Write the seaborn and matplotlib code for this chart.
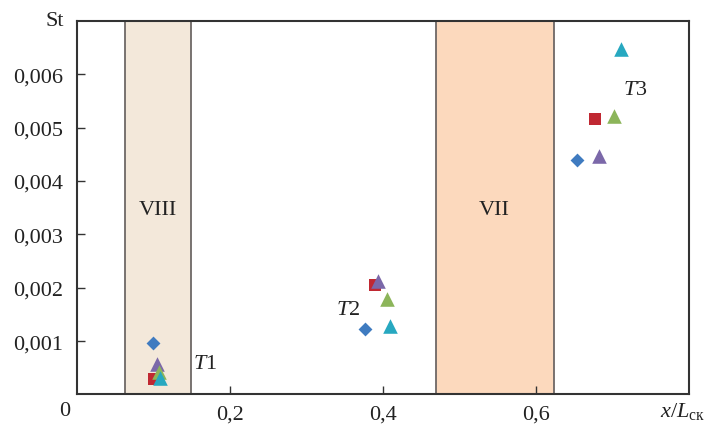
import numpy as np
import pandas as pd
import seaborn as sns
import matplotlib.pyplot as plt

# Stanton number vs relative coordinate, three sections T1..T3
series = ["diamond", "square", "tri_purple", "tri_green", "tri_cyan"]
x_diamond = [0.099, 0.376, 0.653]
y_diamond = [0.00096, 0.00122, 0.00440]
x_square = [0.101, 0.389, 0.677]
y_square = [0.00028, 0.00205, 0.00516]
x_tri_purple = [0.105, 0.394, 0.683]
y_tri_purple = [0.00057, 0.00213, 0.00446]
x_tri_green = [0.107, 0.405, 0.702]
y_tri_green = [0.00042, 0.00179, 0.00522]
x_tri_cyan = [0.108, 0.409, 0.711]
y_tri_cyan = [0.00030, 0.00129, 0.00647]

x_ticks = [0.2, 0.4, 0.6]
x_ticklabels = ["0,2", "0,4", "0,6"]
y_ticks = [0.001, 0.002, 0.003, 0.004, 0.005, 0.006]
y_ticklabels = ["0,001", "0,002", "0,003", "0,004", "0,005", "0,006"]

# zones
zone_names = ["VIII", "VII"]
zone_start = [0.063, 0.469]
zone_end = [0.149, 0.623]

group_names = ["1", "2", "3"]
group_label_x = [0.168, 0.354, 0.730]
group_label_y = [0.00057, 0.00160, 0.00572]

df = pd.DataFrame({
    "x": x_diamond + x_square + x_tri_purple + x_tri_green + x_tri_cyan,
    "y": y_diamond + y_square + y_tri_purple + y_tri_green + y_tri_cyan,
    "series": np.repeat(series, 3),
})

colors = {"diamond": "#3f7bc0", "square": "#c02832", "tri_purple": "#7b68a9",
          "tri_green": "#8cb55a", "tri_cyan": "#27a8c0"}
markers = {"diamond": "D", "square": "s", "tri_purple": "^",
           "tri_green": "^", "tri_cyan": "^"}
msize = {"diamond": 50, "square": 70, "tri_purple": 110,
         "tri_green": 110, "tri_cyan": 110}
zone_colors = ["#f3e8da", "#fcd9bd"]

sns.set_style("white")
plt.rcParams["font.family"] = ["Liberation Serif", "DejaVu Serif"]
plt.rcParams["mathtext.fontset"] = "custom"
plt.rcParams["mathtext.rm"] = "Liberation Serif"
plt.rcParams["mathtext.it"] = "Liberation Serif:italic"

fig = plt.figure(figsize=(7.18, 4.27), dpi=100)
ax = fig.add_axes([0.1072, 0.074, 0.8524, 0.8745])

for name, x0, x1, c in zip(zone_names, zone_start, zone_end, zone_colors):
    ax.axvspan(x0, x1, facecolor=c, edgecolor="#6e6866", linewidth=1.3, zorder=0)
    ax.text((x0 + x1) / 2, 0.00347, name, ha="center", va="center", fontsize=16,
            color="#222222")

for s in series:
    sub = df[df["series"] == s]
    sns.scatterplot(data=sub, x="x", y="y", color=colors[s], marker=markers[s],
                    s=msize[s], linewidth=0, ax=ax, zorder=3, legend=False)

for g, gx, gy in zip(group_names, group_label_x, group_label_y):
    ax.text(gx, gy, "$T$" + g, ha="center", va="center", fontsize=16, color="#222222")

ax.set_xlim(0, 0.8)
ax.set_ylim(0, 0.007)
ax.set_xticks(x_ticks)
ax.set_xticklabels(x_ticklabels)
ax.set_yticks(y_ticks)
ax.set_yticklabels(y_ticklabels)
ax.tick_params(direction="in", length=6, width=1, labelsize=16, color="#333333",
               labelcolor="#222222", bottom=True, left=True)
ax.tick_params(axis="y", pad=10)
ax.tick_params(axis="x", pad=7)
ax.set_xlabel("")
ax.set_ylabel("")
for sp in ax.spines.values():
    sp.set_color("#333333")
    sp.set_linewidth(1.5)

ax.text(-0.02, -0.044, "0", transform=ax.transAxes, ha="center", va="center",
        fontsize=16, color="#222222")
ax.text(-0.036, 1.0, "St", transform=ax.transAxes, ha="center", va="center",
        fontsize=16, color="#222222")
ax.text(0.99, -0.044, r"$x/L_{\mathrm{ск}}$", transform=ax.transAxes,
        ha="center", va="center", fontsize=16, color="#222222")

fig.savefig("out.png", dpi=100)
